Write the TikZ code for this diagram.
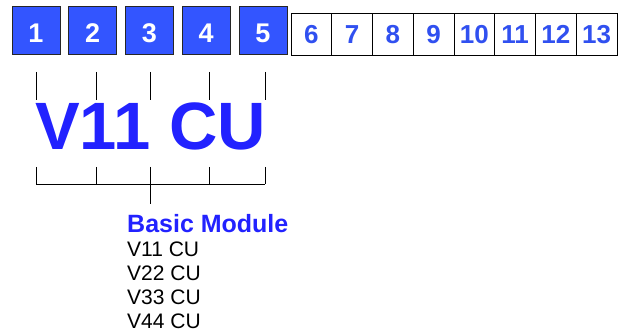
\documentclass[tikz,border=0pt]{standalone}
\usepackage{fontspec}
\setmainfont{Liberation Sans}
\usetikzlibrary{positioning}
\definecolor{slotblue}{RGB}{51,85,255}
\definecolor{codeblue}{RGB}{34,34,255}
\definecolor{numblue}{RGB}{48,80,240}
\tikzstyle{slot} = [
  rectangle, draw=black!85, fill=slotblue, text=white, line width=0.8pt,
  font=\fontsize{27}{27}\selectfont\bfseries, minimum size=48pt,
  inner sep=0pt, outer sep=0pt, text height=26pt, text depth=0pt
]
\tikzstyle{free} = [
  rectangle, draw=black, fill=white, text=numblue, line width=0.8pt,
  font=\fontsize{26}{26}\selectfont\bfseries, minimum width=40.75pt,
  minimum height=42pt, inner sep=0pt, outer sep=0pt,
  text height=19pt, text depth=0pt
]
\tikzstyle{tick} = [line width=0.9pt]
\tikzstyle{item} = [anchor=base west, inner sep=0pt, font=\fontsize{21}{24}\selectfont]

\begin{document}
\begin{tikzpicture}[x=1pt, y=-1pt]
    \useasboundingbox (0,0) rectangle (622,336);
    % used slots
    \node[slot] (s1) at (36,30) {1};
    \node[slot, right=8.75pt of s1] (s2) {2};
    \node[slot, right=8.75pt of s2] (s3) {3};
    \node[slot, right=8.75pt of s3] (s4) {4};
    \node[slot, right=8.75pt of s4] (s5) {5};
    % free slots
    \node[free] (s6) at (311.4,34) {6};
    \node[free, right=0pt of s6] (s7) {7};
    \node[free, right=0pt of s7] (s8) {8};
    \node[free, right=0pt of s8] (s9) {9};
    \node[free, right=0pt of s9] (s10) {10};
    \node[free, right=0pt of s10] (s11) {11};
    \node[free, right=0pt of s11] (s12) {12};
    \node[free, right=0pt of s12] (s13) {13};

    \node[anchor=base west, inner sep=0pt, text=codeblue,
      font=\fontsize{67}{67}\selectfont\bfseries] (code) at (35,150) {V11 CU};

    % brackets
    \foreach \x in {36,96,150,209,265} {
      \draw[tick] (\x,72) -- (\x,100);
      \draw[tick] (\x,167) -- (\x,184);
    }
    \coordinate (left) at (36,184);
    \coordinate (right) at (265,184);
    \coordinate (fork) at (150,184);
    \coordinate (stem) at (150,204);
    \draw[tick] (left) -- (right);
    \draw[tick] (fork) -- (stem);

    \node[item, text=codeblue, font=\fontsize{25}{25}\selectfont\bfseries] (basic) at (127,233) {Basic Module};
    \node[item] (v11) at (127,257) {V11 CU};
    \node[item] (v22) at (127,281) {V22 CU};
    \node[item] (v33) at (127,305) {V33 CU};
    \node[item] (v44) at (127,329) {V44 CU};
  \end{tikzpicture}
\end{document}
